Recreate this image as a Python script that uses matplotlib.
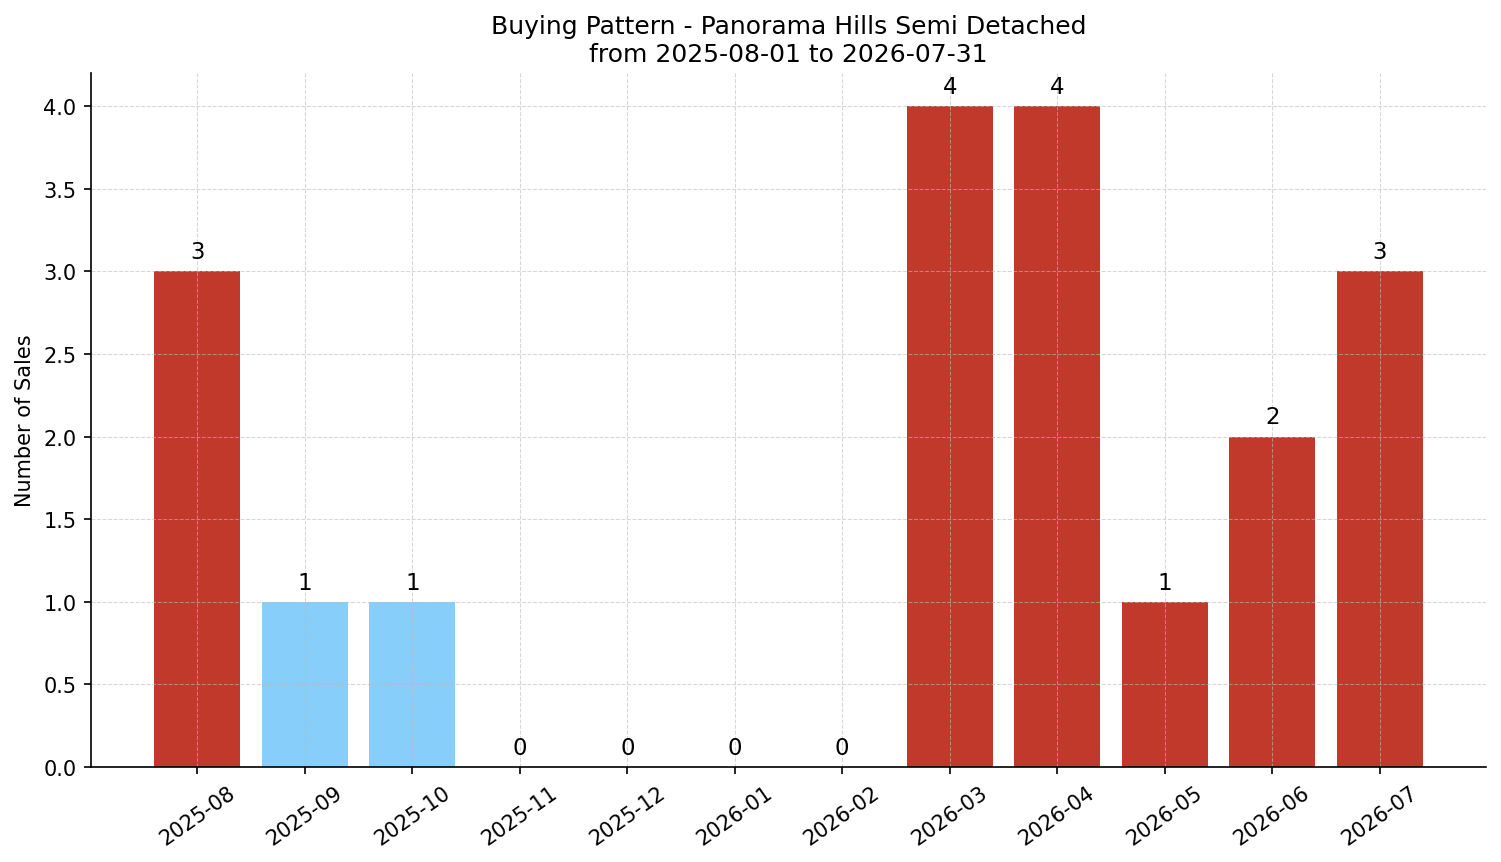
import matplotlib
matplotlib.use("Agg")
import matplotlib.pyplot as plt

# monthly sales counts
months = ['2025-08', '2025-09', '2025-10', '2025-11', '2025-12', '2026-01',
          '2026-02', '2026-03', '2026-04', '2026-05', '2026-06', '2026-07']
sales = [3, 1, 1, 0, 0, 0, 0, 4, 4, 1, 2, 3]
low_months = ['2025-09', '2025-10']

red = '#c0392b'
blue = '#87cefa'
colors = [blue if m in low_months else red for m in months]

fig, ax = plt.subplots(figsize=(10.007, 5.753), dpi=150)
fig.subplots_adjust(left=0.0606, right=0.990, top=0.914, bottom=0.110)

x = range(len(months))
bars = ax.bar(x, sales, color=colors, width=0.8)
for b, v in zip(bars, sales):
    ax.text(b.get_x() + b.get_width() / 2, v + 0.05, str(v),
            ha='center', va='bottom', fontsize=11)

ax.set_xticks(list(x))
ax.set_xticklabels(months, rotation=35, ha='center')
ax.set_ylabel('Number of Sales')
ax.set_title('Buying Pattern - Panorama Hills Semi Detached\nfrom 2025-08-01 to 2026-07-31',
             fontsize=12)
ax.grid(True, linestyle='--', color='#bbbbbb', alpha=0.6, linewidth=0.5)
ax.spines['top'].set_visible(False)
ax.spines['right'].set_visible(False)

fig.savefig('out.png', dpi=150)
